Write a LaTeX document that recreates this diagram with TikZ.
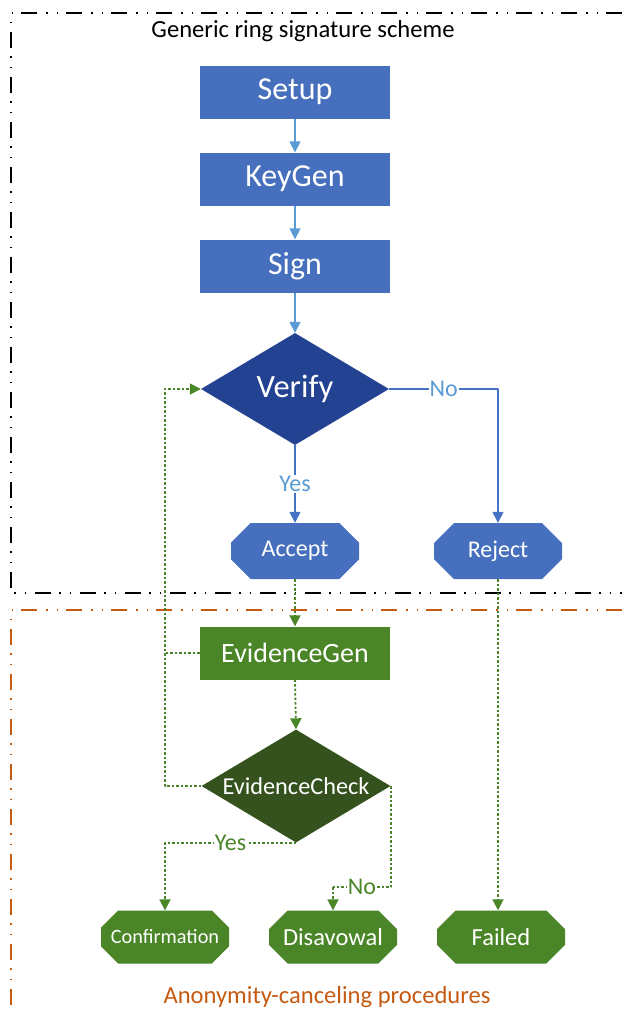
\documentclass[tikz,border=0pt]{standalone}
\usepackage{fontspec}
\setmainfont{Carlito}
\usetikzlibrary{shapes.geometric,shapes.misc,arrows.meta}
\definecolor{boxblue}{RGB}{70,112,190}
\definecolor{verifyblue}{RGB}{35,66,146}
\definecolor{arrowblue}{RGB}{91,155,213}
\definecolor{lineblue}{RGB}{68,114,196}
\definecolor{boxgreen}{RGB}{74,134,40}
\definecolor{checkgreen}{RGB}{53,82,30}
\definecolor{frameorange}{RGB}{197,90,17}
\tikzset{
  procbox/.style={rectangle, fill=boxblue, text=white, minimum width=190pt, minimum height=53pt, inner sep=0pt, font=\fontsize{32}{34}\selectfont},
  endbox/.style={chamfered rectangle, chamfered rectangle xsep=10pt, chamfered rectangle ysep=10pt, fill=boxblue, text=white, minimum width=128pt, minimum height=56pt, inner sep=0pt, font=\fontsize{24}{26}\selectfont},
  decide/.style={diamond, aspect=1.68, minimum width=188pt, minimum height=112pt, inner sep=0pt, text=white},
  framedash/.style={line width=1.5pt, dash pattern=on 16pt off 8pt on 1.5pt off 9pt on 1.5pt off 9pt},
  bluearrow/.style={arrowblue, line width=1.6pt, -{Triangle[width=11pt,length=11pt]}},
  greendot/.style={boxgreen, line width=1.8pt, dash pattern=on 2.5pt off 2pt},
  greentip/.style={-{Triangle[width=11pt,length=11pt]}},
  lbl/.style={fill=white, inner sep=1pt, font=\fontsize{24}{26}\selectfont}
}
\begin{document}
\begin{tikzpicture}[x=1pt, y=-1pt, line join=round]
	\useasboundingbox (0,0) rectangle (622,1013);
	%Frames
	\draw[framedash, black] (622,13) -- (11,13) -- (11,593) -- (622,593);
	\draw[framedash, frameorange, line width=1.3pt] (622,610) -- (11,610) -- (11,1013);
	\node[font=\fontsize{24.6}{26}\selectfont] (gtitle) at (303,31) {Generic ring signature scheme};
	\node[font=\fontsize{24.6}{26}\selectfont, text=frameorange] (atitle) at (327,997) {Anonymity-canceling procedures};

	%Ring signature part
	\node[procbox] (setup) at (295,92) {Setup};
	\node[procbox] (keygen) at (295,179) {KeyGen};
	\node[procbox] (sign) at (295,266) {Sign};
	\node[decide, fill=verifyblue, font=\fontsize{32.5}{34}\selectfont] (verify) at (295,389) {Verify};
	\node[endbox] (accept) at (295,551) {Accept};
	\node[endbox] (reject) at (498,551) {Reject};

	%Anonymity-canceling part
	\node[procbox, fill=boxgreen, font=\fontsize{28}{30}\selectfont] (evgen) at (295,653) {EvidenceGen};
	\node[decide, fill=checkgreen, minimum width=189pt, minimum height=113pt, font=\fontsize{24.3}{26}\selectfont] (evcheck) at (296,786) {EvidenceCheck};
	\node[endbox, fill=boxgreen, minimum height=53pt, font=\fontsize{20.3}{22}\selectfont] (confirm) at (165,937) {Confirmation};
	\node[endbox, fill=boxgreen, minimum height=53pt, font=\fontsize{24.5}{26}\selectfont] (disav) at (333,937) {Disavowal};
	\node[endbox, fill=boxgreen, minimum height=53pt, font=\fontsize{24.5}{26}\selectfont] (failed) at (501,937) {Failed};
	\coordinate (back) at (165,786);

	%Connectors
	\draw[bluearrow] (setup) -- (keygen);
	\draw[bluearrow] (keygen) -- (sign);
	\draw[bluearrow] (sign) -- (verify);
	\draw[bluearrow, lineblue] (verify.south) -- node[lbl, text=arrowblue] {Yes} (accept.north);
	\draw[bluearrow, lineblue] (verify.east) -| node[pos=0.25, lbl, text=arrowblue] {No} (reject.north);
	\draw[greendot, greentip] (accept.south) -- (evgen.north);
	\draw[greendot, greentip] (reject.south) -- (reject.south |- failed.north);
	\draw[greendot, greentip] (evgen.south) -- (evcheck.north);
	\draw[greendot] (evgen.west) -- (evgen.west -| back);
	\draw[greendot, greentip] (evcheck.west) -- (back) |- (verify.west);
	\draw[greendot, greentip] (evcheck.south) -| node[pos=0.25, lbl, text=boxgreen] {Yes} (confirm.north);
	\draw[greendot] (evcheck.east) |- node[pos=0.75, lbl, text=boxgreen] {No} ([yshift=23pt]disav.north);
	\draw[greendot, greentip] ([yshift=23pt]disav.north) -- (disav.north);
\end{tikzpicture}
\end{document}
